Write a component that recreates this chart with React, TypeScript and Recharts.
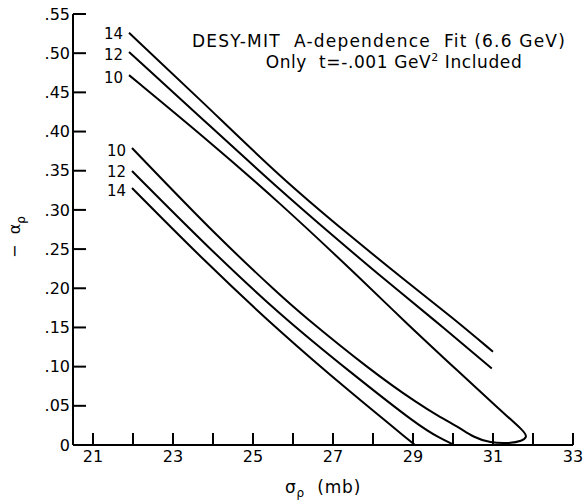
import React from 'react';
import { LineChart, Line, XAxis, YAxis, Customized } from 'recharts';

// ---- axis ticks ----
const xTicks = [21, 22, 23, 24, 25, 26, 27, 28, 29, 30, 31, 32, 33];
const xTickLabels = ['21', '', '23', '', '25', '', '27', '', '29', '', '31', '', '33'];
const xTicksTop = [21, 22, 23, 24, 25, 26, 27, 28, 29, 30, 31, 32];
const yTicks = [0, 0.05, 0.1, 0.15, 0.2, 0.25, 0.3, 0.35, 0.4, 0.45, 0.5, 0.55];
const yTickLabels = ['0', '.05', '.10', '.15', '.20', '.25', '.30', '.35', '.40', '.45', '.50', '.55'];
const yTicksRight = [0.05, 0.1, 0.15, 0.2, 0.25, 0.3, 0.35, 0.4, 0.45, 0.5];

// ---- contour series (sigma_rho in mb, -alpha_rho) ----
const upper14 = [
  { x: 21.9, y: 0.526 },
  { x: 23.8, y: 0.435 },
  { x: 25.675, y: 0.342 },
  { x: 27.425, y: 0.267 },
  { x: 28.775, y: 0.211 },
  { x: 30.0, y: 0.162 },
  { x: 31.0, y: 0.119 },
];
const upper12 = [
  { x: 21.9, y: 0.5015 },
  { x: 23.8, y: 0.413 },
  { x: 25.675, y: 0.3254 },
  { x: 27.0, y: 0.267 },
  { x: 28.3, y: 0.2106 },
  { x: 29.5, y: 0.161 },
  { x: 30.97, y: 0.0977 },
];
const contour10Upper = [
  { x: 21.9, y: 0.472 },
  { x: 23.8, y: 0.392 },
  { x: 25.675, y: 0.309 },
  { x: 27.725, y: 0.2106 },
  { x: 28.75, y: 0.1595 },
  { x: 30.175, y: 0.0919 },
  { x: 31.175, y: 0.0447 },
  { x: 31.8, y: 0.0166 },
];
const contour10Tip = [
  { x: 31.85, y: 0.0102 },
  { x: 31.725, y: 0.005 },
  { x: 31.425, y: 0.002 },
];
const contour10Lower = [
  { x: 30.925, y: 0.0026 },
  { x: 30.5, y: 0.0102 },
  { x: 30.175, y: 0.0217 },
  { x: 29.675, y: 0.0357 },
  { x: 29.175, y: 0.051 },
  { x: 27.925, y: 0.0957 },
  { x: 26.175, y: 0.1685 },
  { x: 25.675, y: 0.1914 },
  { x: 24.1, y: 0.266 },
  { x: 21.975, y: 0.379 },
];
const lower12 = [
  { x: 21.975, y: 0.3497 },
  { x: 23.8, y: 0.256 },
  { x: 25.675, y: 0.1659 },
  { x: 27.425, y: 0.0932 },
  { x: 29.175, y: 0.023 },
  { x: 29.675, y: 0.0089 },
  { x: 29.975, y: 0.0013 },
];
const lower14 = [
  { x: 21.975, y: 0.328 },
  { x: 23.8, y: 0.234 },
  { x: 25.675, y: 0.1442 },
  { x: 27.425, y: 0.0676 },
  { x: 29.05, y: 0.0 },
];
const contour10 = [...contour10Upper, ...contour10Tip, ...contour10Lower];

const FONT = '"DejaVu Sans", sans-serif';

const makeLabel = (text: string, atEnd: number | null, shift: number) => (props: any) => {
  const { x, y, index } = props;
  if (index !== 0 && index !== atEnd) return null;
  return (
    <text
      key={`lbl-${text}-${index}`}
      x={x - 6}
      y={y + shift}
      dy="0.35em"
      textAnchor="end"
      fontSize={15}
      fontFamily={FONT}
      fill="#000"
    >
      {text}
    </text>
  );
};

const Annotation = () => (
  <g fontFamily={FONT} fill="#000">
    <text x={379} y={47} textAnchor="middle" fontSize={17} letterSpacing={1.2} style={{ whiteSpace: 'pre' }}>
      {'DESY-MIT  A-dependence  Fit (6.6 GeV)'}
    </text>
    <text x={394} y={68} textAnchor="middle" fontSize={17} letterSpacing={0.6} style={{ whiteSpace: 'pre' }}>
      <tspan>{'Only  t=-.001 GeV'}</tspan>
      <tspan dy={-7} fontSize={11}>2</tspan>
      <tspan dy={7}>{' Included'}</tspan>
    </text>
  </g>
);

const XTitle = (props: any) => {
  const vb = props.viewBox || {};
  const cx = vb.x + vb.width / 2;
  return (
    <text x={cx} y={493} textAnchor="middle" fontSize={17} letterSpacing={0.8} fontFamily={FONT} fill="#000" style={{ whiteSpace: 'pre' }}>
      <tspan>σ</tspan>
      <tspan dy={4} fontSize={12}>ρ</tspan>
      <tspan dy={-4}>{'  (mb)'}</tspan>
    </text>
  );
};

const YTitle = () => {
  const cy = 237;
  const cx = 20;
  return (
    <text
      x={cx}
      y={cy}
      transform={`rotate(-90 ${cx} ${cy})`}
      textAnchor="middle"
      fontSize={16}
      fontFamily={FONT}
      fill="#000"
      style={{ whiteSpace: 'pre' }}
    >
      <tspan>{'−  α'}</tspan>
      <tspan dy={5} fontSize={12}>ρ</tspan>
    </text>
  );
};

const axisStroke = { stroke: '#000', strokeWidth: 2 };

export default function App() {
  return (
    <div style={{ position: 'absolute', left: 0, top: 0, background: '#fff' }}>
      <LineChart width={584} height={502} margin={{ top: 14, right: 11, bottom: 0, left: 0 }}>
        <XAxis
          xAxisId="b"
          type="number"
          dataKey="x"
          domain={[20.5, 33]}
          allowDataOverflow
          ticks={xTicks}
          interval={0}
          orientation="bottom"
          height={57}
          tickSize={-12}
          tickMargin={18}
          axisLine={axisStroke}
          tickLine={axisStroke}
          tick={{ fill: '#000', fontSize: 16, fontFamily: FONT }}
          tickFormatter={(v: number) => xTickLabels[xTicks.indexOf(v)] ?? ''}
          label={<XTitle />}
        />
        <XAxis
          xAxisId="t"
          type="number"
          dataKey="x"
          domain={[20.5, 33]}
          allowDataOverflow
          ticks={xTicksTop}
          interval={0}
          orientation="top"
          height={0}
          tickSize={-11}
          axisLine={axisStroke}
          tickLine={axisStroke}
          tickFormatter={() => ''}
        />
        <YAxis
          yAxisId="l"
          type="number"
          domain={[0, 0.55]}
          allowDataOverflow
          ticks={yTicks}
          interval={0}
          width={73}
          tickSize={-13}
          tickMargin={16}
          axisLine={axisStroke}
          tickLine={axisStroke}
          tick={{ fill: '#000', fontSize: 16, fontFamily: FONT }}
          tickFormatter={(v: number) => yTickLabels[yTicks.indexOf(v)] ?? ''}
          label={<YTitle />}
        />
        <YAxis
          yAxisId="r"
          type="number"
          orientation="right"
          domain={[0, 0.55]}
          allowDataOverflow
          ticks={yTicksRight}
          interval={0}
          width={0}
          tickSize={-15}
          axisLine={axisStroke}
          tickLine={axisStroke}
          tickFormatter={() => ''}
        />
        <Line xAxisId="b" yAxisId="l" data={upper14} dataKey="y" type="basis" stroke="#000" strokeWidth={2} dot={false} isAnimationActive={false} label={makeLabel('14', null, 1)} />
        <Line xAxisId="b" yAxisId="l" data={upper12} dataKey="y" type="basis" stroke="#000" strokeWidth={2} dot={false} isAnimationActive={false} label={makeLabel('12', null, 3)} />
        <Line xAxisId="b" yAxisId="l" data={contour10} dataKey="y" type="basis" stroke="#000" strokeWidth={2} dot={false} isAnimationActive={false} label={makeLabel('10', contour10.length - 1, 3)} />
        <Line xAxisId="b" yAxisId="l" data={lower12} dataKey="y" type="basis" stroke="#000" strokeWidth={2} dot={false} isAnimationActive={false} label={makeLabel('12', null, 1)} />
        <Line xAxisId="b" yAxisId="l" data={lower14} dataKey="y" type="basis" stroke="#000" strokeWidth={2} dot={false} isAnimationActive={false} label={makeLabel('14', null, 3)} />
        <Customized component={Annotation} />
      </LineChart>
    </div>
  );
}
